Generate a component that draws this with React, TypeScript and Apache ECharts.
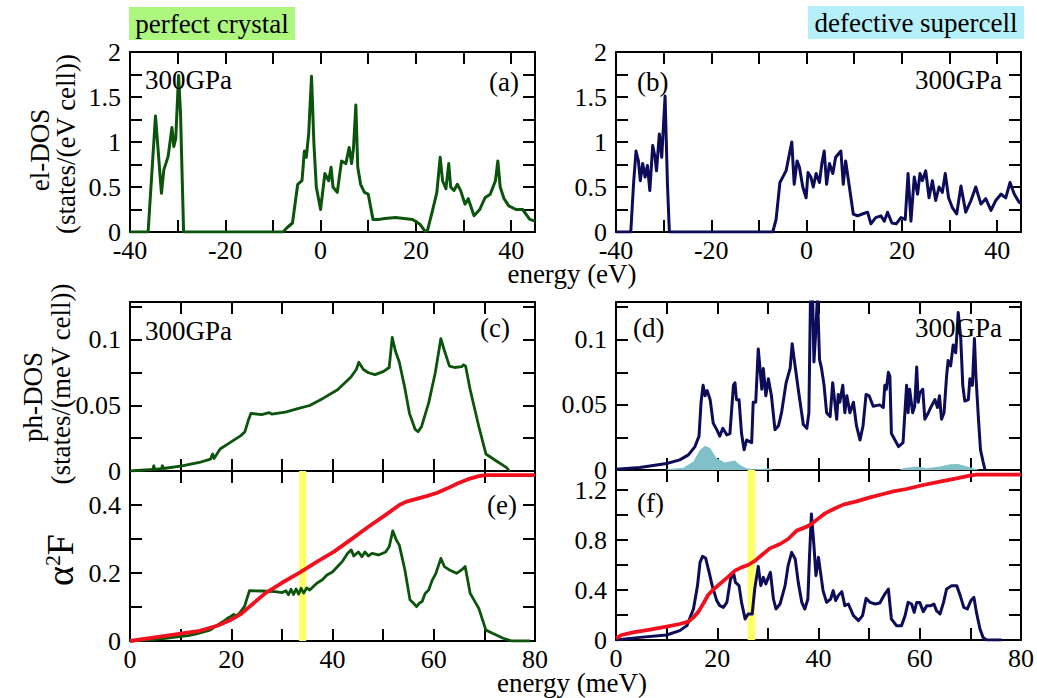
import React, { useEffect, useRef } from "react";
import * as echarts from "echarts";

type P = [number, number][];

const FONT = "'Liberation Serif', 'Times New Roman', serif";
const GREEN = "#0b540b";
const NAVY = "#0c0c58";
const RED = "#f0101e";
const TEAL = "#80c0c8";
const YELLOW = "#ffff66";

// (a) el-DOS perfect crystal
const elA: P = [[-40,0],[-36.2,0],[-34.65,1.29],[-33.4,0.43],[-32.9,0.69],[-32.0,0.84],[-31.2,1.16],[-30.8,0.95],[-30.4,1.04],[-29.8,1.74],[-29.4,1.32],[-28.75,0],[-7.9,0],[-7.0,0.05],[-5.9,0.1],[-4.8,0.53],[-3.9,0.57],[-3.4,0.9],[-3.0,0.83],[-2.5,1.09],[-1.9,1.73],[-1.4,0.98],[-0.9,0.5],[0,0.25],[0.9,0.65],[1.7,0.57],[2.2,0.72],[2.6,0.5],[3.5,0.44],[4.4,0.79],[5.3,0.76],[6.0,0.94],[6.5,0.76],[6.9,0.93],[7.4,1.41],[7.8,0.72],[8.4,0.53],[9.2,0.44],[10,0.42],[11,0.14],[12.1,0.14],[13.5,0.15],[15.7,0.16],[17.5,0.15],[19.3,0.14],[20.8,0.09],[21.9,0.01],[22.4,0.01],[23.5,0.24],[24.4,0.44],[25.1,0.83],[25.6,0.57],[26.3,0.48],[26.9,0.76],[27.3,0.5],[28.0,0.46],[28.7,0.53],[29.4,0.46],[30.3,0.31],[31.0,0.37],[32.2,0.18],[33.4,0.25],[34.5,0.38],[35.6,0.42],[36.7,0.57],[37.2,0.79],[37.7,0.5],[38.5,0.37],[39.5,0.29],[41.0,0.25],[42.4,0.25],[43.9,0.14],[45,0.12]];

// (b) el-DOS defective supercell
const elB: P = [[-40,0],[-36.9,0],[-36.3,0.55],[-35.8,0.9],[-35.3,0.79],[-34.9,0.57],[-34.4,0.76],[-33.9,0.61],[-33.4,0.74],[-32.9,0.46],[-32.3,0.96],[-31.8,0.83],[-31.5,0.68],[-30.9,1.09],[-30.4,0.83],[-29.7,1.51],[-29.2,0.53],[-28.8,0],[-7.1,0],[-6.4,0.14],[-5.6,0.55],[-5.0,0.61],[-4.3,0.68],[-3.6,0.87],[-3.1,1.0],[-2.6,0.53],[-2.0,0.79],[-1.5,0.72],[-0.8,0.5],[-0.1,0.38],[0.3,0.66],[0.9,0.61],[1.4,0.5],[2.0,0.65],[2.7,0.55],[3.2,0.76],[3.7,0.9],[4.2,0.53],[4.8,0.76],[5.5,0.65],[6.1,0.83],[7.2,0.9],[7.7,0.53],[8.2,0.79],[8.9,0.53],[9.8,0.2],[10.7,0.18],[11.7,0.2],[12.8,0.22],[13.5,0.09],[14.5,0.16],[15.6,0.18],[16.3,0.12],[17.0,0.22],[17.9,0.1],[18.8,0.09],[19.8,0.16],[20.7,0.14],[21.3,0.65],[21.9,0.12],[22.6,0.61],[23.3,0.42],[23.8,0.65],[24.3,0.57],[25.0,0.68],[25.7,0.38],[26.4,0.57],[27.1,0.35],[27.8,0.5],[28.5,0.44],[29.1,0.65],[29.8,0.38],[30.6,0.27],[31.5,0.2],[32.4,0.51],[33.4,0.22],[34.5,0.35],[35.5,0.5],[36.6,0.31],[37.6,0.37],[38.7,0.24],[39.7,0.35],[40.8,0.42],[41.8,0.38],[42.7,0.55],[43.6,0.42],[44.6,0.33],[45,0.32]];

// (c) ph-DOS perfect crystal
const phC: P = [[0,0],[4.5,0.0012],[4.7,0.004],[4.9,0.0013],[6.2,0.0018],[6.4,0.004],[6.6,0.0019],[10.3,0.0039],[13.7,0.0065],[15.9,0.009],[16.3,0.013],[16.6,0.0095],[17.8,0.0168],[19.9,0.022],[21.9,0.027],[22.7,0.030],[23.4,0.039],[23.9,0.044],[26.0,0.043],[27.5,0.0445],[28.0,0.0434],[30.7,0.045],[33.5,0.048],[35.5,0.050],[38.2,0.0556],[41.0,0.062],[43.7,0.072],[44.7,0.0775],[45.2,0.083],[46.1,0.0775],[47.1,0.075],[48.4,0.0736],[50.1,0.076],[51.2,0.079],[51.8,0.102],[52.4,0.092],[53.2,0.083],[54.2,0.065],[55.2,0.044],[56.3,0.032],[56.9,0.030],[57.6,0.034],[59.0,0.052],[60.3,0.075],[61.4,0.101],[62.1,0.092],[63.1,0.080],[64.1,0.079],[65.5,0.0796],[65.9,0.081],[66.3,0.080],[67.2,0.062],[68.9,0.034],[70.3,0.013],[72.3,0.0078],[74.4,0.0026],[74.9,0]];

// (d) ph-DOS defective supercell
const phD: P = [[0,0.0005],[4.7,0.002],[10,0.005],[12.6,0.0078],[14.3,0.0116],[15.6,0.018],[16.4,0.026],[16.8,0.052],[17.2,0.065],[17.6,0.057],[18.0,0.061],[18.6,0.054],[19.2,0.036],[19.9,0.031],[20.5,0.026],[21.1,0.032],[21.9,0.027],[22.5,0.028],[23.2,0.065],[23.5,0.067],[23.8,0.054],[24.3,0.054],[24.8,0.028],[25.3,0.0155],[25.8,0.023],[26.8,0.021],[27.1,0.052],[27.6,0.052],[28.1,0.093],[28.4,0.080],[28.8,0.062],[29.1,0.078],[29.6,0.057],[30.1,0.070],[30.7,0.057],[31.4,0.031],[32.1,0.034],[32.7,0.044],[33.6,0.067],[34.4,0.078],[34.8,0.097],[35.2,0.085],[36.0,0.062],[37.0,0.035],[37.7,0.032],[38.1,0.044],[38.4,0.128],[38.8,0.14],[39.1,0.083],[39.5,0.109],[39.8,0.135],[40.2,0.085],[40.6,0.078],[41.1,0.065],[41.6,0.044],[42.3,0.041],[42.8,0.067],[43.3,0.049],[43.6,0.039],[43.9,0.058],[44.2,0.052],[44.8,0.065],[45.2,0.044],[45.6,0.057],[46.2,0.044],[46.9,0.052],[47.5,0.034],[48.2,0.023],[48.8,0.034],[49.4,0.058],[50.0,0.057],[50.8,0.049],[52.1,0.050],[52.8,0.048],[53.1,0.065],[53.4,0.062],[53.8,0.075],[54.1,0.072],[54.4,0.028],[55.1,0.023],[55.8,0.018],[56.7,0.021],[57.4,0.065],[57.7,0.044],[58.0,0.062],[58.6,0.044],[59.0,0.049],[59.4,0.079],[59.7,0.052],[60.0,0.059],[60.6,0.062],[61.0,0.039],[61.7,0.044],[62.3,0.049],[63.0,0.054],[63.5,0.048],[63.9,0.057],[64.3,0.039],[64.8,0.044],[65.3,0.072],[65.6,0.084],[66.1,0.080],[66.6,0.096],[67.1,0.090],[67.6,0.121],[68.1,0.101],[68.5,0.065],[68.9,0.053],[69.6,0.054],[69.9,0.070],[70.4,0.065],[70.8,0.101],[71.1,0.072],[71.6,0.039],[72.0,0.0155],[72.5,0.0065],[72.9,0]];

// (d) projected ph-DOS (shaded)
const phDProj: P = [[10,0.0005],[13.3,0.0018],[15.3,0.0065],[16.6,0.0155],[17.6,0.0186],[18.6,0.0168],[19.2,0.013],[19.9,0.009],[20.5,0.0078],[21.5,0.0057],[22.5,0.0065],[23.5,0.0072],[24.5,0.0039],[25.8,0.0013],[27.1,0.0005],[30.4,0.0013],[31,0],[56,0],[56.7,0.0013],[59.4,0.0026],[61.3,0.0013],[64.0,0.0026],[66.0,0.0044],[67.6,0.0047],[69.3,0.0026],[70.6,0.0013],[71.9,0]];

// (e) alpha^2F and lambda, perfect crystal
const a2fE: P = [[0,0],[4.9,0.005],[7,0.008],[9.7,0.013],[11.5,0.016],[13.1,0.021],[15.8,0.032],[17.8,0.052],[18.5,0.058],[19.2,0.066],[19.9,0.072],[20.5,0.078],[21.0,0.074],[21.6,0.081],[22.6,0.101],[23.6,0.148],[26.0,0.147],[28.7,0.145],[30.0,0.142],[30.8,0.148],[31.3,0.136],[31.8,0.152],[32.3,0.137],[32.8,0.153],[33.3,0.138],[33.8,0.155],[34.3,0.141],[34.9,0.156],[35.5,0.150],[36.9,0.170],[38.0,0.180],[38.9,0.194],[40.0,0.203],[41.0,0.219],[42.0,0.235],[43.0,0.258],[43.7,0.268],[44.2,0.250],[45.1,0.262],[45.8,0.248],[46.4,0.262],[47.1,0.250],[47.8,0.258],[49.1,0.253],[50.5,0.262],[51.2,0.277],[51.9,0.324],[52.6,0.297],[53.2,0.282],[54.3,0.209],[55.3,0.121],[56.0,0.111],[56.6,0.101],[57.2,0.112],[57.7,0.116],[58.3,0.140],[59.0,0.150],[59.7,0.179],[60.4,0.198],[61.4,0.243],[62.1,0.219],[63.1,0.209],[64.5,0.199],[65.5,0.209],[66.2,0.219],[67.2,0.140],[68.9,0.096],[70.3,0.032],[71.6,0.023],[73.7,0.008],[75.4,0],[79,0]];
const lamE: P = [[0,0],[4.9,0.011],[9.7,0.021],[13.8,0.030],[17.2,0.045],[19.9,0.062],[21.9,0.079],[24.0,0.106],[26.7,0.140],[30.1,0.172],[33.5,0.201],[36.9,0.233],[40.3,0.263],[43.7,0.299],[47.1,0.336],[50.5,0.371],[53.2,0.4],[54.6,0.41],[56.6,0.418],[58.6,0.426],[60.7,0.436],[62.7,0.449],[64.8,0.464],[66.8,0.476],[68.9,0.485],[70.3,0.488],[80,0.488]];

// (f) alpha^2F and lambda, defective supercell
const a2fF: P = [[0,0],[4.7,0.021],[10,0.04],[12.6,0.075],[14.0,0.115],[15.3,0.248],[16.1,0.435],[16.6,0.621],[17.1,0.669],[17.7,0.656],[18.4,0.541],[19.0,0.435],[19.9,0.315],[20.5,0.275],[21.2,0.261],[21.9,0.301],[22.6,0.483],[23.2,0.541],[23.6,0.461],[24.3,0.435],[24.8,0.301],[25.5,0.168],[26.1,0.208],[26.9,0.208],[27.4,0.408],[28.1,0.589],[28.6,0.435],[29.1,0.501],[29.6,0.448],[30.1,0.501],[30.5,0.541],[31.1,0.328],[31.6,0.248],[32.4,0.288],[33.4,0.435],[34.0,0.595],[34.7,0.701],[35.4,0.648],[36.0,0.461],[36.7,0.301],[37.3,0.248],[37.9,0.328],[38.2,0.648],[38.6,1.008],[39.1,0.755],[39.5,0.515],[40.0,0.661],[40.4,0.541],[40.9,0.395],[41.6,0.301],[42.4,0.328],[42.9,0.395],[43.4,0.315],[43.9,0.355],[44.6,0.387],[45.2,0.275],[45.9,0.288],[46.9,0.195],[47.9,0.155],[48.7,0.195],[49.4,0.333],[50.2,0.301],[51.2,0.288],[52.1,0.296],[53.1,0.368],[53.8,0.408],[54.4,0.168],[55.4,0.115],[56.4,0.115],[57.1,0.195],[57.7,0.301],[58.4,0.288],[58.9,0.221],[59.4,0.301],[60.0,0.301],[60.7,0.227],[61.4,0.275],[62.2,0.275],[62.8,0.288],[63.3,0.235],[64.0,0.208],[64.7,0.301],[65.3,0.408],[66.3,0.435],[67.3,0.435],[68.0,0.355],[68.7,0.261],[69.4,0.248],[70.1,0.315],[70.7,0.341],[71.2,0.221],[71.9,0.088],[72.5,0.021],[73.2,0],[76.2,0]];
const lamF: P = [[0,0.013],[1.1,0.04],[3.4,0.061],[6.7,0.083],[10,0.107],[12.6,0.128],[14.3,0.147],[15.3,0.181],[16.3,0.227],[17.2,0.288],[18.2,0.36],[19.2,0.403],[20.5,0.448],[22.2,0.507],[23.5,0.555],[24.8,0.581],[26.1,0.6],[27.5,0.635],[28.8,0.68],[30.4,0.733],[32.4,0.768],[34.0,0.808],[35.7,0.875],[37.7,0.907],[38.6,0.928],[40.0,0.973],[41.3,1.013],[43.0,1.048],[44.9,1.083],[47.5,1.109],[50.2,1.141],[52.8,1.168],[54.8,1.189],[57.4,1.208],[60.7,1.24],[64.0,1.267],[67.3,1.293],[69.9,1.315],[71.2,1.323],[80,1.323]];

const bandE: [number, number] = [33.4, 34.8];
const bandF: [number, number] = [26.0, 27.5];

const elRange: [number, number] = [-40, 45];
const meVRange: [number, number] = [0, 80];

const fmtStep = (step: number) => (v: number) => {
  const r = v / step;
  if (Math.abs(r - Math.round(r)) > 1e-6) return "";
  return String(parseFloat(v.toFixed(4)));
};

function mkAxis(kind: "x" | "y", grid: number, pos: string, min: number, max: number, step: number, labelStep: number, showLabel: boolean) {
  return {
    type: "value",
    gridIndex: grid,
    position: pos,
    min,
    max,
    interval: step,
    axisLine: { show: true, onZero: false, lineStyle: { color: "#000", width: 2 } },
    axisTick: { show: true, inside: true, length: 12, lineStyle: { color: "#000", width: 2 } },
    splitLine: { show: false },
    axisLabel: {
      show: showLabel,
      margin: kind === "x" ? 5 : 9,
      fontFamily: FONT,
      fontSize: 26,
      color: "#000",
      showMaxLabel: true,
      showMinLabel: true,
      hideOverlap: false,
      formatter: fmtStep(labelStep),
    },
  };
}

export default function App() {
  const ref = useRef<HTMLDivElement>(null);
  useEffect(() => {
    if (!ref.current) return;
    const chart = echarts.init(ref.current, undefined, { renderer: "svg" });
    const grids = [
      { left: 130, top: 52, width: 405, height: 180 },
      { left: 616, top: 52, width: 405, height: 180 },
      { left: 130, top: 302, width: 405, height: 169 },
      { left: 616, top: 302, width: 405, height: 168 },
      { left: 130, top: 471, width: 405, height: 170 },
      { left: 616, top: 470, width: 405, height: 170 },
    ];
    const xDefs = [
      [elRange, 10, 20, true],
      [elRange, 10, 20, true],
      [meVRange, 10, 20, false],
      [meVRange, 10, 20, false],
      [meVRange, 10, 20, true],
      [meVRange, 10, 20, true],
    ] as const;
    const yDefs: [number, number, number, number][] = [
      [0, 2, 0.25, 0.5],
      [0, 2, 0.25, 0.5],
      [0, 0.129, 0.025, 0.05],
      [0, 0.129, 0.025, 0.05],
      [0, 0.5, 0.1, 0.2],
      [0, 1.36, 0.2, 0.4],
    ];
    const xAxis: any[] = [];
    const yAxis: any[] = [];
    for (let g = 0; g < 6; g++) {
      const [r, st, ls, sl] = xDefs[g];
      xAxis.push(mkAxis("x", g, "bottom", r[0], r[1], st, ls, sl));
      xAxis.push(mkAxis("x", g, "top", r[0], r[1], st, ls, false));
      const [y0, y1, yst, yls] = yDefs[g];
      yAxis.push(mkAxis("y", g, "left", y0, y1, yst, yls, true));
      yAxis.push(mkAxis("y", g, "right", y0, y1, yst, yls, false));
    }
    const line = (g: number, data: P, color: string, width: number, z = 3) => ({
      type: "line",
      xAxisIndex: 2 * g,
      yAxisIndex: 2 * g,
      data,
      showSymbol: false,
      symbol: "none",
      lineStyle: { color, width, join: "round" },
      z,
    });
    const bandSeries = (g: number, band: [number, number]) => ({
      type: "line",
      xAxisIndex: 2 * g,
      yAxisIndex: 2 * g,
      data: [[band[0], 0]],
      symbol: "none",
      lineStyle: { width: 0 },
      z: 1,
      markArea: {
        silent: true,
        itemStyle: { color: YELLOW, opacity: 1 },
        data: [[{ xAxis: band[0] }, { xAxis: band[1] }]],
      },
    });
    const series: any[] = [
      line(0, elA, GREEN, 3),
      line(1, elB, NAVY, 3),
      line(2, phC, GREEN, 2.8),
      {
        type: "line",
        xAxisIndex: 6,
        yAxisIndex: 6,
        data: phDProj,
        symbol: "none",
        lineStyle: { width: 0 },
        areaStyle: { color: TEAL, opacity: 1 },
        z: 1,
      },
      line(3, phD, NAVY, 3),
      bandSeries(4, bandE),
      line(4, a2fE, GREEN, 2.8),
      line(4, lamE, RED, 3.8, 4),
      bandSeries(5, bandF),
      line(5, a2fF, NAVY, 3),
      line(5, lamF, RED, 3.8, 4),
    ];
    const txt = (text: string, x: number, y: number, align = "left", size = 27) => ({
      type: "text",
      x,
      y,
      z: 100,
      style: { text, fill: "#000", fontFamily: FONT, fontSize: size, align, verticalAlign: "middle" },
    });
    const vtxt = (text: string, x: number, y: number, size = 27) => ({
      type: "text",
      x,
      y,
      rotation: Math.PI / 2,
      z: 100,
      style: { text, fill: "#000", fontFamily: FONT, fontSize: size, align: "center", verticalAlign: "middle" },
    });
    const graphic: any[] = [
      { type: "rect", shape: { x: 129, y: 7, width: 166, height: 33 }, style: { fill: "#aef77f" }, z: 90 },
      txt("perfect crystal", 212, 24, "center"),
      { type: "rect", shape: { x: 808, y: 6, width: 216, height: 33 }, style: { fill: "#b5eff9" }, z: 90 },
      txt("defective supercell", 916, 23, "center"),
      txt("300GPa", 145, 80),
      txt("(a)", 519, 82, "right"),
      txt("(b)", 637, 82),
      txt("300GPa", 1002, 80, "right"),
      txt("300GPa", 145, 331),
      txt("(c)", 510, 328, "right"),
      txt("(d)", 633, 328),
      txt("300GPa", 1002, 328, "right"),
      txt("(e)", 517, 505, "right"),
      txt("(f)", 637, 503),
      txt("energy (eV)", 572, 274, "center"),
      txt("energy (meV)", 572, 683, "center"),
      vtxt("el-DOS", 40, 150),
      vtxt("(states/(eV cell))", 66, 144),
      vtxt("ph-DOS", 33, 397),
      vtxt("(states/(meV cell))", 61, 384),
      {
        type: "text",
        x: 60,
        y: 560,
        rotation: Math.PI / 2,
        z: 100,
        style: {
          text: "{a|α}{s|2}{a|F}",
          fill: "#000",
          align: "center",
          verticalAlign: "middle",
          rich: {
            a: { fontFamily: FONT, fontSize: 38, fill: "#000" },
            s: { fontFamily: FONT, fontSize: 22, fill: "#000", padding: [0, 0, 16, 0] },
          },
        },
      },
    ];
    chart.setOption({
      animation: false,
      backgroundColor: "#fff",
      textStyle: { fontFamily: FONT, fontSize: 26, color: "#000" },
      grid: grids.map((g) => ({ ...g, containLabel: false })),
      xAxis,
      yAxis,
      series,
      graphic,
    });
    return () => chart.dispose();
  }, []);
  return <div ref={ref} style={{ position: "fixed", left: 0, top: 0, width: 1037, height: 698, background: "#fff" }} />;
}
